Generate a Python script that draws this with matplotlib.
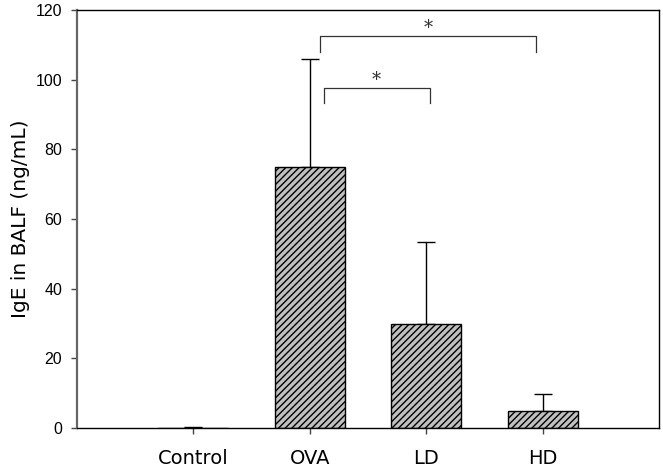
import matplotlib.pyplot as plt
import numpy as np

plt.rcParams['hatch.linewidth'] = 1.0
plt.rcParams['hatch.color'] = 'black'

# Data
groups = ['Control', 'OVA', 'LD', 'HD']
ige = [0.0, 75.0, 30.0, 4.9]
ige_err = [0.2, 30.8, 23.4, 4.9]

# significance brackets: (x start, x end, bar height, leg drop)
brackets = [(1.12, 2.03, 97.5, 4.3), (1.09, 2.94, 112.5, 4.5)]

x = np.arange(len(groups))

fig = plt.figure(figsize=(6.63, 4.67), dpi=100)
ax = fig.add_axes([0.116, 0.0835, 0.878, 0.895])

ax.bar(x, ige, 0.6, color='#c0c0c0', edgecolor='black', linewidth=1.0,
       hatch='/////', zorder=2)
ax.errorbar(x, ige, yerr=[np.zeros(len(ige)), ige_err], fmt='none',
            ecolor='black', elinewidth=1.0, capsize=6.5, capthick=1.0, zorder=1)

for x0, x1, yb, drop in brackets:
    ax.plot([x0, x0, x1, x1], [yb - drop, yb, yb, yb - drop],
            color='#333333', lw=0.9)
    ax.text((x0 + x1) / 2, yb - 0.3, '*', ha='center', va='bottom',
            fontsize=13, family='DejaVu Serif', color='#333333')

ax.set_xlim(-1, 4)
ax.set_ylim(0, 120)
ax.set_xticks(x)
ax.set_xticklabels(groups, fontsize=14, family='DejaVu Sans')
ax.set_yticks(np.arange(0, 121, 20))
ax.set_yticklabels([str(v) for v in range(0, 121, 20)], fontsize=11.5,
                   family='Liberation Sans')
ax.tick_params(axis='x', length=4, width=1.0, pad=11, color='#444444')
ax.tick_params(axis='y', length=4.5, width=1.0, pad=6, color='#444444')
ax.set_ylabel('IgE in BALF (ng/mL)', fontsize=14.5, labelpad=4)

ax.spines['left'].set_color('#666666')
ax.spines['left'].set_linewidth(1.6)
for s in ['top', 'bottom', 'right']:
    ax.spines[s].set_color('black')
    ax.spines[s].set_linewidth(1.0)

plt.savefig('out.png', dpi=100)
